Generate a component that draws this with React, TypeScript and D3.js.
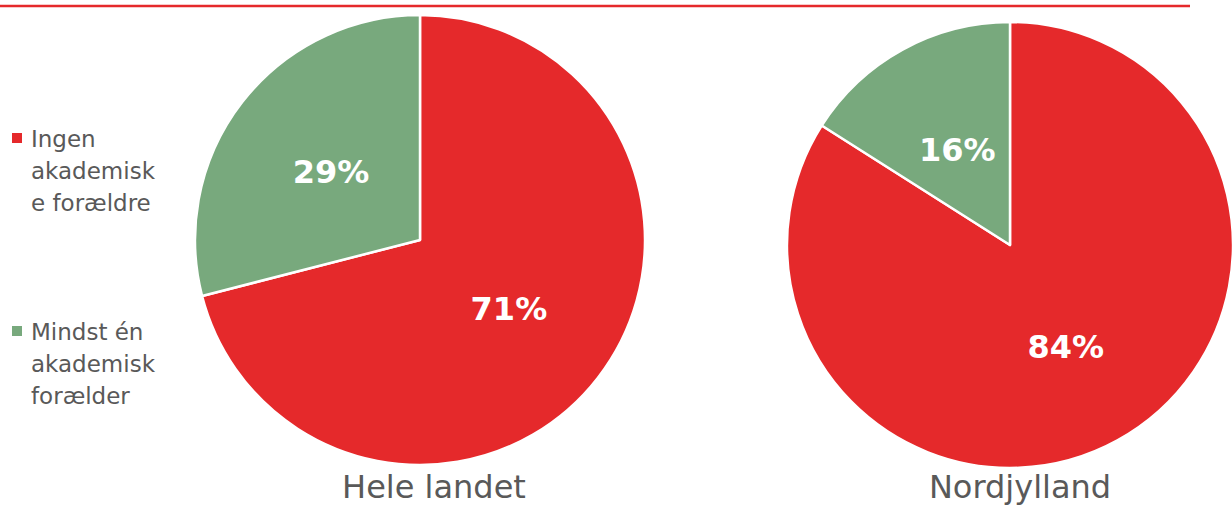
import React from "react";
import * as d3 from "d3";

const categories = ["Ingen akademiske forældre", "Mindst én akademisk forælder"];
const legendLines = [["Ingen", "akademisk", "e forældre"], ["Mindst én", "akademisk", "forælder"]];
const regions = ["Hele landet", "Nordjylland"];
const heleValues = [71, 29];
const nordValues = [84, 16];
const colors = ["#E5292B", "#78A97D"];

const pies = [
  { title: regions[0], values: heleValues, cx: 420, cy: 240, r: 225, tx: 434, lr: [0.5, 0.5] },
  { title: regions[1], values: nordValues, cx: 1010, cy: 245, r: 223, tx: 1020, lr: [0.52, 0.49] },
];

export default function App() {
  const pieGen = d3.pie<number>().sort(null).value((d) => d);
  const font = "'DejaVu Sans', Verdana, sans-serif";
  return (
    <svg width={1232} height={507} style={{ position: "absolute", left: 0, top: 0 }}>
      <rect width={1232} height={507} fill="#fff" />
      <line x1={0} x2={1190} y1={6} y2={6} stroke="#E5292B" strokeWidth={2.5} />
      {pies.map((p, i) => {
        const arcs = pieGen(p.values);
        const arc = d3.arc<d3.PieArcDatum<number>>().innerRadius(0).outerRadius(p.r);
        return (
          <g key={i}>
            <g transform={`translate(${p.cx},${p.cy})`}>
              {arcs.map((a, j) => (
                <path key={j} d={arc(a) || ""} fill={colors[j]} stroke="#fff" strokeWidth={2.5} strokeLinejoin="round" />
              ))}
              {arcs.map((a, j) => {
                const lr = p.r * p.lr[j];
                const [x, y] = d3.arc<d3.PieArcDatum<number>>().innerRadius(lr).outerRadius(lr).centroid(a);
                return (
                  <text key={"l" + j} x={x} y={y} dy="0.36em" textAnchor="middle" fill="#fff"
                    fontFamily={font} fontWeight="bold" fontSize={32}>
                    {`${p.values[j]}%`}
                  </text>
                );
              })}
            </g>
            <text x={p.tx} y={498} textAnchor="middle" fill="#595959" fontFamily={font} fontSize={32}>
              {p.title}
            </text>
          </g>
        );
      })}
      {categories.map((c, i) => {
        const y0 = i === 0 ? 147 : 340;
        return (
          <g key={c}>
            <rect x={12} y={y0 - 14} width={10} height={10} fill={colors[i]} />
            {legendLines[i].map((t, k) => (
              <text key={k} x={31} y={y0 + k * 32} fill="#595959" fontFamily={font} fontSize={23}>
                {t}
              </text>
            ))}
          </g>
        );
      })}
    </svg>
  );
}
